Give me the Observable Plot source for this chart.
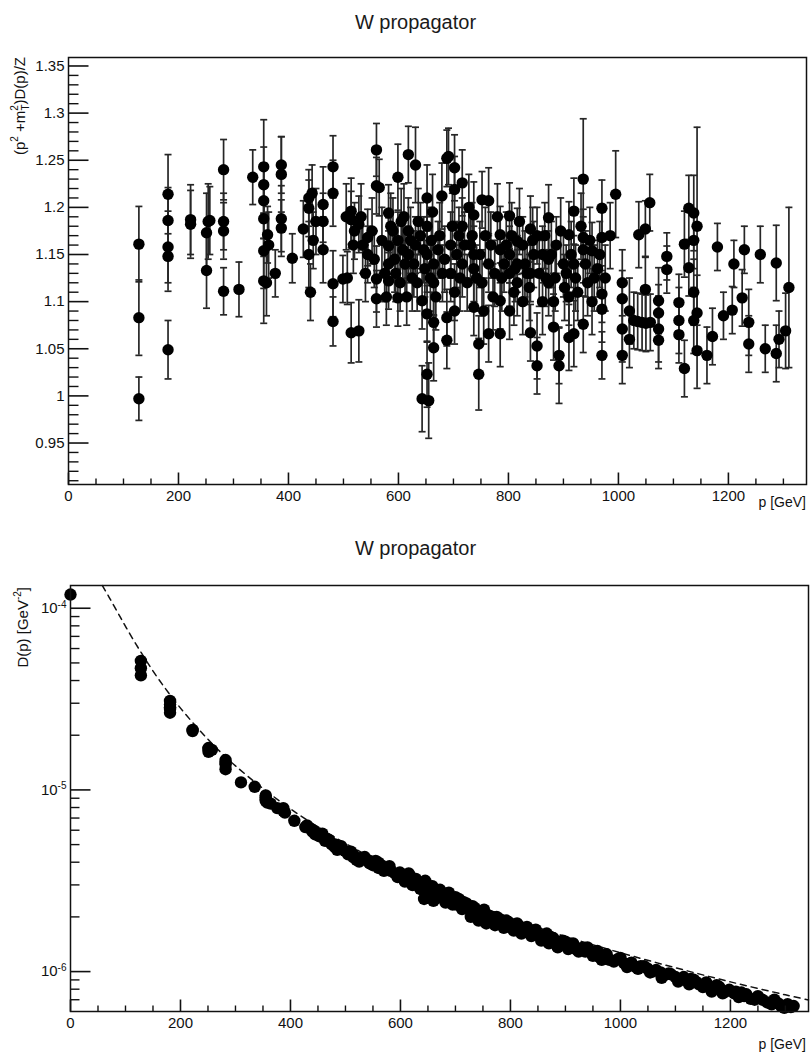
<!DOCTYPE html>
<html>
<head>
<meta charset="utf-8">
<script src="https://cdn.jsdelivr.net/npm/d3@7"></script>
<script src="https://cdn.jsdelivr.net/npm/@observablehq/plot@0.6"></script>
<style>
  html, body { margin: 0; padding: 0; background: #fff; }
  #wrap { position: relative; width: 811px; height: 1059px; overflow: hidden;
          font-family: "Liberation Sans", Arial, Helvetica, sans-serif; }
  .title { position: absolute; left: 10px; width: 811px; text-align: center;
           font-size: 20px; line-height: 20px; color: #1a1a1a; }
  .panel { position: absolute; left: 0; }
</style>
</head>
<body>
<div id="wrap">
  <div class="title" id="t1" style="top:12px">W propagator</div>
  <div class="panel" id="p1" style="top:40px"></div>
  <div class="title" id="t2" style="top:538px">W propagator</div>
  <div class="panel" id="p2" style="top:565px"></div>
</div>
<script>
// ---------- data ----------
const xLabel = "p [GeV]";

// upper panel: (p^2+m_T^2) D(p) / Z with error bars
const topP = [
  128,128,128,181,181,181,181,181,222,222,251,251,254,257,282,282,282,282,310,335,
  355,355,355,355,355,355,362,364,360,376,387,387,387,387,407,427,437,437,437,440,
  443,445,450,463,463,463,481,481,481,481,499,507,514,514,514,520,528,528,535,544,
  544,560,560,560,560,565,575,582,582,582,582,590,595,599,599,599,605,608,612,618,
  618,618,625,631,631,636,643,643,648,652,652,652,652,652,655,660,664,664,664,664,
  672,679,680,688,688,688,691,695,695,702,702,702,702,710,716,716,716,725,731,737,
  737,737,737,746,746,752,752,758,764,764,764,775,785,785,785,785,792,802,802,802,
  802,810,816,816,816,826,826,834,840,840,840,846,852,852,852,862,862,868,873,873,
  873,882,882,887,892,892,900,905,910,910,910,919,919,919,926,936,936,936,936,944,
  952,952,962,970,970,970,970,970,995,1007,1007,1007,1007,1020,1020,1028,1035,1037,1043,1049,
  1049,1050,1057,1058,1073,1073,1073,1073,1088,1088,1110,1110,1110,1120,1120,1128,1128,1137,1137,1137,
  1137,1143,1143,1143,1161,1171,1180,1191,1207,1210,1225,1229,1237,1237,1258,1267,1287,1287,1292,1304,
  1310,
  505,518,532,540,552,556,570,578,586,593,603,610,615,622,628,634,640,646,658,662,
  668,675,684,698,706,712,720,728,734,742,748,755,768,772,780,788,796,806,812,820,
  830,838,844,856,866,878,885,895,902,914,922,932,940,948,956,966,976,985
];
const topRatio = [
  1.161,1.083,0.997,1.214,1.186,1.158,1.148,1.049,1.187,1.182,1.173,1.133,1.185,1.186,1.240,1.185,1.175,1.111,1.113,1.232,
  1.243,1.224,1.207,1.188,1.154,1.122,1.171,1.160,1.120,1.130,1.245,1.235,1.188,1.178,1.146,1.177,1.210,1.199,1.150,1.110,
  1.215,1.165,1.185,1.203,1.185,1.155,1.243,1.215,1.119,1.079,1.124,1.125,1.196,1.187,1.067,1.175,1.182,1.069,1.160,1.168,
  1.150,1.261,1.223,1.124,1.103,1.221,1.130,1.194,1.159,1.140,1.122,1.175,1.130,1.232,1.165,1.104,1.185,1.155,1.140,1.256,
  1.175,1.150,1.125,1.245,1.160,1.185,1.101,0.997,1.135,1.210,1.180,1.150,1.087,1.023,0.995,1.165,1.140,1.120,1.078,1.051,
  1.155,1.212,1.130,1.252,1.083,1.059,1.254,1.160,1.130,1.242,1.219,1.110,1.090,1.170,1.226,1.180,1.140,1.120,1.160,1.192,
  1.150,1.135,1.094,1.055,1.023,1.208,1.120,1.170,1.207,1.140,1.066,1.130,1.171,1.155,1.101,1.066,1.140,1.191,1.150,1.130,
  1.090,1.110,1.164,1.140,1.120,1.160,1.100,1.130,1.177,1.130,1.067,1.150,1.170,1.053,1.032,1.150,1.100,1.125,1.189,1.145,
  1.120,1.100,1.073,1.160,1.043,1.032,1.140,1.130,1.171,1.105,1.062,1.196,1.140,1.066,1.110,1.230,1.168,1.155,1.076,1.120,
  1.154,1.100,1.135,1.199,1.168,1.108,1.092,1.043,1.214,1.120,1.103,1.071,1.043,1.090,1.060,1.080,1.079,1.171,1.078,1.177,
  1.113,1.077,1.205,1.078,1.101,1.088,1.071,1.059,1.148,1.134,1.099,1.080,1.065,1.161,1.029,1.199,1.136,1.194,1.165,1.110,
  1.080,1.180,1.088,1.048,1.043,1.063,1.158,1.085,1.091,1.140,1.104,1.155,1.078,1.055,1.150,1.050,1.141,1.045,1.060,1.069,
  1.115,
  1.190,1.160,1.190,1.130,1.175,1.145,1.165,1.105,1.180,1.145,1.120,1.190,1.105,1.165,1.140,1.120,1.170,1.155,1.125,1.195,
  1.105,1.170,1.145,1.180,1.150,1.125,1.160,1.200,1.170,1.125,1.150,1.090,1.160,1.105,1.190,1.125,1.160,1.170,1.135,1.185,
  1.140,1.115,1.165,1.130,1.170,1.150,1.125,1.175,1.115,1.150,1.125,1.180,1.140,1.165,1.125,1.150,1.125,1.170
];
const topErr = [
  0.040,0.040,0.023,0.042,0.035,0.038,0.037,0.031,0.037,0.036,0.042,0.040,0.040,0.036,0.032,0.030,0.030,0.025,0.029,0.029,
  0.050,0.040,0.040,0.040,0.040,0.045,0.030,0.035,0.035,0.025,0.030,0.040,0.035,0.030,0.026,0.030,0.030,0.030,0.035,0.030,
  0.030,0.030,0.035,0.040,0.030,0.035,0.033,0.035,0.035,0.026,0.025,0.028,0.035,0.030,0.032,0.030,0.030,0.033,0.030,0.030,
  0.030,0.028,0.030,0.035,0.030,0.030,0.030,0.030,0.030,0.035,0.030,0.035,0.030,0.035,0.030,0.030,0.035,0.030,0.035,0.030,
  0.035,0.030,0.035,0.040,0.030,0.035,0.030,0.035,0.030,0.035,0.030,0.040,0.030,0.035,0.040,0.035,0.030,0.035,0.030,0.035,
  0.030,0.035,0.030,0.030,0.030,0.030,0.030,0.035,0.030,0.035,0.035,0.030,0.035,0.030,0.035,0.030,0.035,0.030,0.035,0.035,
  0.030,0.035,0.030,0.030,0.038,0.030,0.035,0.030,0.035,0.030,0.030,0.035,0.030,0.035,0.030,0.035,0.030,0.035,0.030,0.035,
  0.030,0.035,0.035,0.030,0.035,0.030,0.035,0.030,0.035,0.030,0.030,0.035,0.030,0.035,0.030,0.030,0.035,0.030,0.035,0.030,
  0.035,0.030,0.035,0.030,0.030,0.040,0.035,0.030,0.035,0.030,0.035,0.035,0.030,0.035,0.030,0.064,0.030,0.035,0.030,0.035,
  0.030,0.035,0.030,0.030,0.035,0.030,0.035,0.025,0.046,0.035,0.030,0.035,0.030,0.035,0.030,0.030,0.030,0.035,0.030,0.030,
  0.035,0.030,0.030,0.030,0.035,0.030,0.035,0.030,0.025,0.025,0.030,0.035,0.030,0.035,0.030,0.035,0.030,0.040,0.030,0.035,
  0.035,0.105,0.040,0.040,0.030,0.030,0.025,0.025,0.025,0.025,0.030,0.025,0.035,0.030,0.030,0.025,0.040,0.030,0.030,0.040,
  0.085,
  0.035,0.030,0.035,0.030,0.035,0.030,0.035,0.030,0.035,0.035,0.030,0.035,0.030,0.035,0.035,0.030,0.035,0.035,0.035,0.040,
  0.035,0.035,0.035,0.035,0.035,0.035,0.035,0.035,0.035,0.035,0.035,0.035,0.035,0.035,0.035,0.035,0.035,0.035,0.035,0.035,
  0.035,0.035,0.035,0.035,0.035,0.035,0.035,0.035,0.035,0.035,0.035,0.035,0.035,0.035,0.035,0.035,0.035,0.035
];

// lower panel: D(p) in GeV^-2 (log scale)
const lowP = [
  0,128,128,128,181,181,181,181,181,222,222,251,251,251,257,282,282,282,282,310,
  335,355,355,355,355,358,364,376,387,387,390,407,427,437,440,443,445,463,463,470,
  481,481,485,499,514,514,520,528,544,544,560,560,565,575,582,590,599,605,612,618,
  625,631,640,643,648,652,655,660,664,670,678,688,691,700,702,710,716,725,731,737,
  746,752,760,764,775,785,792,802,810,816,826,834,840,852,862,873,882,892,900,910,
  919,930,936,945,952,962,970,980,995,1007,1015,1028,1037,1049,1058,1073,1080,1088,1100,1110,
  1120,1128,1137,1143,1161,1171,1180,1191,1207,1210,1225,1229,1237,1258,1267,1287,1292,1304,1310,
  430,452,458,475,492,505,510,525,535,550,555,570,580,595,602,608,615,622,628,636,
  645,650,658,666,672,682,686,695,706,712,720,728,735,742,748,756,768,772,780,788,
  796,806,812,820,830,838,846,856,866,870,878,886,895,905,914,924,940,950,958,966,
  975,988,1000,1012,1020,1032,1043,1054,1065,1075,1092,1105,1115,1125,1133,1150,1156,1166,1175,1186,
  1198,1215,1220,1244,1250,1275,1280,1298,1315
];
const lowD = [
  1.19e-4,5.13e-5,4.68e-5,4.27e-5,3.09e-5,2.95e-5,2.85e-5,2.79e-5,2.66e-5,2.14e-5,2.11e-5,1.70e-5,1.68e-5,1.62e-5,1.66e-5,1.46e-5,1.41e-5,1.38e-5,1.30e-5,1.10e-5,
  1.04e-5,9.33e-6,9.12e-6,8.91e-6,8.71e-6,8.51e-6,8.41e-6,7.94e-6,7.94e-6,7.67e-6,7.50e-6,6.76e-6,6.24e-6,6.10e-6,5.89e-6,5.96e-6,5.69e-6,5.43e-6,5.25e-6,5.31e-6,
  5.01e-6,4.84e-6,4.68e-6,4.62e-6,4.42e-6,4.27e-6,4.12e-6,4.22e-6,4.07e-6,3.94e-6,3.98e-6,3.72e-6,3.85e-6,3.63e-6,3.59e-6,3.47e-6,3.51e-6,3.31e-6,3.24e-6,3.35e-6,
  3.16e-6,3.09e-6,2.95e-6,2.51e-6,3.02e-6,2.60e-6,2.82e-6,2.45e-6,2.75e-6,2.66e-6,2.63e-6,2.72e-6,2.51e-6,2.57e-6,2.34e-6,2.45e-6,2.40e-6,2.19e-6,2.29e-6,2.09e-6,
  2.00e-6,2.19e-6,2.04e-6,1.91e-6,2.00e-6,1.86e-6,1.91e-6,1.80e-6,1.74e-6,1.78e-6,1.66e-6,1.70e-6,1.62e-6,1.58e-6,1.53e-6,1.55e-6,1.45e-6,1.41e-6,1.46e-6,1.38e-6,
  1.33e-6,1.35e-6,1.29e-6,1.30e-6,1.26e-6,1.20e-6,1.23e-6,1.16e-6,1.17e-6,1.11e-6,1.10e-6,1.06e-6,1.07e-6,1.04e-6,1.00e-6,9.89e-7,9.55e-7,9.77e-7,9.33e-7,9.12e-7,
  8.91e-7,9.12e-7,8.81e-7,8.51e-7,8.22e-7,8.13e-7,8.22e-7,7.76e-7,7.59e-7,7.76e-7,7.33e-7,7.50e-7,7.08e-7,7.00e-7,6.76e-7,6.68e-7,6.46e-7,6.61e-7,6.38e-7,
  6.38e-6,5.56e-6,5.75e-6,5.01e-6,4.90e-6,4.42e-6,4.57e-6,4.03e-6,4.27e-6,3.85e-6,4.07e-6,3.59e-6,3.80e-6,3.31e-6,3.39e-6,3.13e-6,3.47e-6,2.99e-6,3.24e-6,2.85e-6,
  3.16e-6,2.72e-6,2.95e-6,2.54e-6,2.82e-6,2.40e-6,2.63e-6,2.34e-6,2.51e-6,2.21e-6,2.37e-6,2.00e-6,2.24e-6,1.91e-6,2.11e-6,1.84e-6,2.00e-6,1.80e-6,1.95e-6,1.74e-6,
  1.88e-6,1.68e-6,1.84e-6,1.62e-6,1.76e-6,1.57e-6,1.70e-6,1.48e-6,1.62e-6,1.43e-6,1.53e-6,1.36e-6,1.48e-6,1.33e-6,1.43e-6,1.29e-6,1.36e-6,1.22e-6,1.30e-6,1.16e-6,
  1.245e-6,1.135e-6,1.19e-6,1.06e-6,1.12e-6,1.035e-6,1.07e-6,9.89e-7,1.02e-6,9.23e-7,9.66e-7,8.81e-7,9.33e-7,8.51e-7,9.02e-7,8.22e-7,8.71e-7,7.76e-7,8.41e-7,7.59e-7,
  7.94e-7,7.24e-7,7.67e-7,7.00e-7,7.33e-7,6.61e-7,7.00e-7,6.31e-7,6.46e-7
];

// dashed curve in the lower panel, read along its length
const fitP = [58,70,85,100,128,160,200,250,300,400,500,600,700,800,900,1000,1100,1200,1300,1342];
const fitD = [1.333e-4,1.153e-4,9.57e-5,7.95e-5,5.73e-5,4.08e-5,2.82e-5,1.90e-5,1.356e-5,7.86e-6,5.08e-6,3.52e-6,2.58e-6,1.97e-6,1.56e-6,1.27e-6,1.05e-6,8.78e-7,7.45e-7,6.98e-7];

// axes
const xTicks = [0,200,400,600,800,1000,1200];
const xMinorTicks = [50,100,150,250,300,350,450,500,550,650,700,750,850,900,950,1050,1100,1150,1250,1300];
const yTicksTop = [0.95,1,1.05,1.1,1.15,1.2,1.25,1.3,1.35];
const yTicksLow = [1e-6,1e-5,1e-4];
const yLowExp = ["-6","-5","-4"];

// ---------- drawing ----------
const FONT = '"Liberation Sans", Arial, Helvetica, sans-serif';
const INK = "#111";
const TOP_DOMAIN = [0.906, 1.359];
const LOW_DOMAIN = [6.03e-7, 1.334e-4];

const topData = topP.map((p, i) => ({p, v: topRatio[i], e: topErr[i]}));
const lowData = lowP.map((p, i) => ({p, d: lowD[i]}));
const fitData = fitP.map((p, i) => ({p, d: fitD[i]}));

const capSym = {draw(ctx) { ctx.moveTo(-3.5, 0); ctx.lineTo(3.5, 0); }};
const tickUp = L => ({draw(ctx) { ctx.moveTo(0, 0); ctx.lineTo(0, -L); }});
const tickRight = L => ({draw(ctx) { ctx.moveTo(0, 0); ctx.lineTo(L, 0); }});

const topMinorY = d3.range(91, 136).map(k => k / 100)
  .filter(v => !yTicksTop.some(t => Math.abs(t - v) < 1e-9));
const lowMinorY = [];
for (const dec of [1e-7, 1e-6, 1e-5, 1e-4]) for (let k = 2; k <= 9; k++) {
  const v = k * dec;
  if (v > LOW_DOMAIN[0] && v < LOW_DOMAIN[1]) lowMinorY.push(v);
}

function xTickMarks() {
  return [
    Plot.dot(xMinorTicks, {x: d => d, frameAnchor: "bottom", symbol: tickUp(6), stroke: INK, strokeWidth: 1.4, fill: "none"}),
    Plot.dot(xTicks, {x: d => d, frameAnchor: "bottom", symbol: tickUp(12), stroke: INK, strokeWidth: 1.6, fill: "none"}),
    Plot.axisX({ticks: xTicks, tickSize: 0, tickPadding: 6, label: null, tickFormat: d => String(d), fontSize: 15})
  ];
}

const plot1 = Plot.plot({
  width: 811, height: 480,
  marginTop: 17, marginBottom: 36, marginLeft: 68, marginRight: 5,
  style: {fontFamily: FONT, fontSize: "15px", color: INK, background: "white", overflow: "visible"},
  x: {domain: [0, 1342], axis: null},
  y: {domain: TOP_DOMAIN, axis: null},
  marks: [
    Plot.ruleX(topData, {x: "p", y1: d => d.v - d.e, y2: d => d.v + d.e, stroke: "#262626", strokeWidth: 1.7}),
    Plot.dot(topData, {x: "p", y: d => d.v + d.e, symbol: capSym, stroke: "#262626", strokeWidth: 1.7, fill: "none"}),
    Plot.dot(topData, {x: "p", y: d => d.v - d.e, symbol: capSym, stroke: "#262626", strokeWidth: 1.7, fill: "none"}),
    Plot.dot(topData, {x: "p", y: "v", r: 5.7, fill: "black", stroke: "none"}),
    Plot.dot(topMinorY, {y: d => d, frameAnchor: "left", symbol: tickRight(10), stroke: INK, strokeWidth: 1.4, fill: "none"}),
    Plot.dot(yTicksTop, {y: d => d, frameAnchor: "left", symbol: tickRight(20), stroke: INK, strokeWidth: 1.6, fill: "none"}),
    Plot.axisY({ticks: yTicksTop, tickSize: 0, tickPadding: 4, label: null, tickFormat: d => String(+d.toFixed(2)), fontSize: 15}),
    ...xTickMarks(),
    Plot.frame({stroke: INK, strokeWidth: 1.5})
  ]
});

const plot2 = Plot.plot({
  width: 811, height: 494,
  marginTop: 20, marginBottom: 48, marginLeft: 70, marginRight: 3,
  style: {fontFamily: FONT, fontSize: "15px", color: INK, background: "white", overflow: "visible"},
  x: {domain: [0, 1342], axis: null},
  y: {type: "log", domain: LOW_DOMAIN, axis: null},
  marks: [
    Plot.line(fitData, {x: "p", y: "d", stroke: INK, strokeWidth: 1.5, strokeDasharray: "6,5", curve: "catmull-rom"}),
    Plot.dot(lowData, {x: "p", y: "d", r: 6.2, fill: "black", stroke: "none"}),
    Plot.dot(lowMinorY, {y: d => d, frameAnchor: "left", symbol: tickRight(9), stroke: INK, strokeWidth: 1.4, fill: "none"}),
    Plot.dot(yTicksLow, {y: d => d, frameAnchor: "left", symbol: tickRight(20), stroke: INK, strokeWidth: 1.6, fill: "none"}),
    Plot.axisY({ticks: yTicksLow, tickSize: 0, tickPadding: 4, label: null, tickFormat: d => "10" + yLowExp[yTicksLow.indexOf(d)], fontSize: 15}),
    ...xTickMarks(),
    Plot.frame({stroke: INK, strokeWidth: 1.5})
  ]
});

document.getElementById("p1").appendChild(plot1);
document.getElementById("p2").appendChild(plot2);

// superscript exponents on the log axis labels
d3.select(plot2).selectAll('g[aria-label="y-axis tick label"] text').each(function() {
  const s = this.textContent;
  if (!s.startsWith("10")) return;
  const exp = s.slice(2);
  const t = d3.select(this);
  t.text("10");
  t.append("tspan").attr("dy", "-0.55em").style("font-size", "10px").text(exp);
});

// axis titles
function addXTitle(svg, y) {
  d3.select(svg).append("text")
    .attr("x", 806).attr("y", y).attr("text-anchor", "end")
    .style("font-family", FONT).style("font-size", "14px").attr("fill", INK)
    .text(xLabel);
}
addXTitle(plot1, 467);
addXTitle(plot2, 484);

// y titles (rotated), with super/subscripts
(function() {
  const t = d3.select(plot1).append("text")
    .attr("transform", "translate(25,17) rotate(-90)")
    .attr("text-anchor", "end")
    .style("font-family", FONT).style("font-size", "15px").attr("fill", INK);
  t.append("tspan").text("(p");
  t.append("tspan").attr("dy", -7).style("font-size", "10px").text("2");
  t.append("tspan").attr("dy", 7).text(" +m");
  t.append("tspan").attr("dy", -7).style("font-size", "10px").text("2");
  t.append("tspan").attr("dx", -5.5).attr("dy", 11).style("font-size", "10px").text("T");
  t.append("tspan").attr("dy", -4).text(")D(p)/Z");
})();
(function() {
  const t = d3.select(plot2).append("text")
    .attr("transform", "translate(28,22) rotate(-90)")
    .attr("text-anchor", "end")
    .style("font-family", FONT).style("font-size", "15px").attr("fill", INK);
  t.append("tspan").text("D(p) [GeV");
  t.append("tspan").attr("dy", -7).style("font-size", "10px").text("-2");
  t.append("tspan").attr("dy", 7).text("]");
})();
</script>
</body>
</html>
